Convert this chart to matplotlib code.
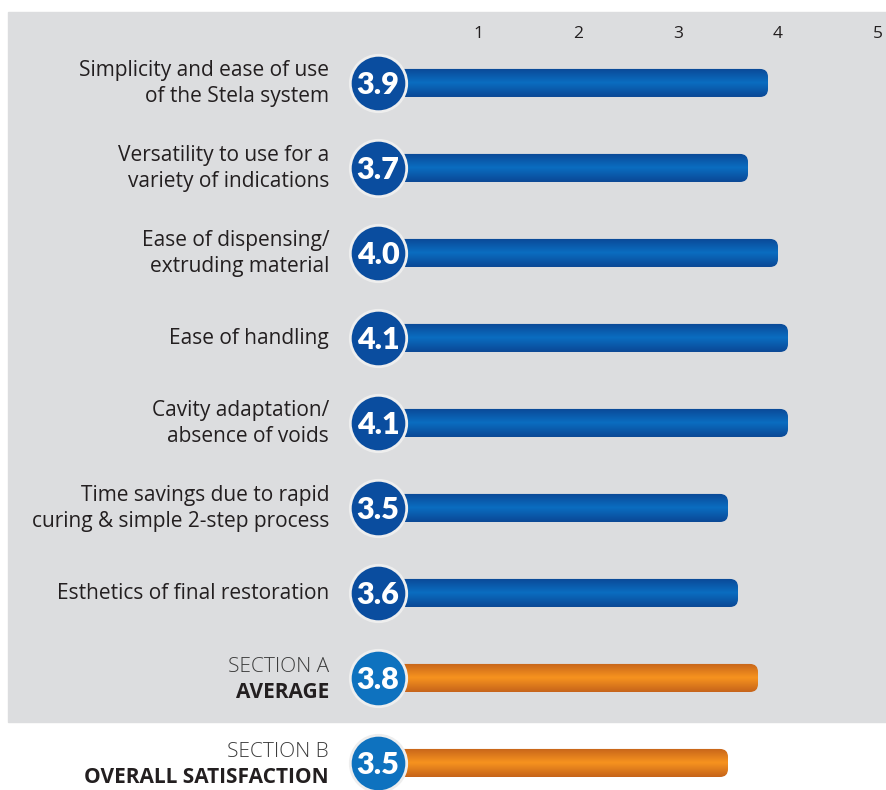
import numpy as np
import matplotlib.pyplot as plt
from matplotlib.patches import FancyBboxPatch, Rectangle
from matplotlib.colors import LinearSegmentedColormap

labels = ["Simplicity and ease of use\nof the Stela system",
          "Versatility to use for a\nvariety of indications",
          "Ease of dispensing/\nextruding material",
          "Ease of handling",
          "Cavity adaptation/\nabsence of voids",
          "Time savings due to rapid\ncuring & simple 2-step process",
          "Esthetics of final restoration"]
values = [3.9, 3.7, 4.0, 4.1, 4.1, 3.5, 3.6]
summary_top = ["SECTION A", "SECTION B"]
summary_bottom = ["AVERAGE", "OVERALL SATISFACTION"]
summary_values = [3.8, 3.5]
ticks = [1, 2, 3, 4, 5]

plt.rcParams['font.family'] = ['Open Sans', 'DejaVu Sans']

fig = plt.figure(figsize=(8.86, 7.9), dpi=100)
ax = fig.add_axes([0, 0, 1, 1])
ax.set_facecolor("none")
ax.axis("off")
# grey panel behind the section A rows
ax.add_patch(Rectangle((8 / 886, 68 / 790), 878 / 886, 710 / 790,
                       transform=fig.transFigure, color="#dcdddf", zorder=0))

bar_h = 0.33
grad = np.linspace(0, 1, 64).reshape(-1, 1)
blue_cmap = LinearSegmentedColormap.from_list("b", ["#0a4896", "#0b6dc1", "#0a4896"])
orange_cmap = LinearSegmentedColormap.from_list("o", ["#c6641a", "#f7931f", "#c6641a"])


def draw_row(y, v, cmap, circ_color):
    patch = FancyBboxPatch((0, y - bar_h / 2), v, bar_h,
                           boxstyle="round,pad=0,rounding_size=0.08",
                           mutation_aspect=1.176, fc="none", ec="none", zorder=2)
    ax.add_patch(patch)
    im = ax.imshow(grad, cmap=cmap, aspect="auto", extent=(0, v, y + bar_h / 2, y - bar_h / 2),
                   zorder=2, origin="upper")
    im.set_clip_path(patch)
    ax.scatter([0], [y], s=1650, color=circ_color, edgecolor="#eeeeee", linewidth=2, zorder=3)
    ax.text(0.0, y + 0.02, f"{v:.1f}", color="white", fontsize=22, fontweight="heavy",
            family=["Lato", "DejaVu Sans"], ha="center", va="center", zorder=4)


for i, (lab, v) in enumerate(zip(labels, values)):
    draw_row(i, v, blue_cmap, "#0a4d9f")
    ax.text(-0.49, i + 0.01, lab, ha="right", va="center", fontsize=15, color="#231f20",
            linespacing=1.33)

for j, (t1, t2, v) in enumerate(zip(summary_top, summary_bottom, summary_values)):
    y = len(values) + j
    draw_row(y, v, orange_cmap, "#0e72bf")
    ax.text(-0.49, y - 0.13, t1, ha="right", va="center", fontsize=15, color="#3c3c3c",
            fontweight="light")
    ax.text(-0.49, y + 0.17, t2, ha="right", va="center", fontsize=15, color="#231f20",
            fontweight="bold")

for t in ticks:
    ax.text(t, -0.58, str(t), ha="center", va="center", fontsize=12.5, color="#231f20")

ax.set_xlim(-3.78, 5.08)
ax.set_ylim(8.318, -0.976)
fig.savefig("out.png", dpi=100)
